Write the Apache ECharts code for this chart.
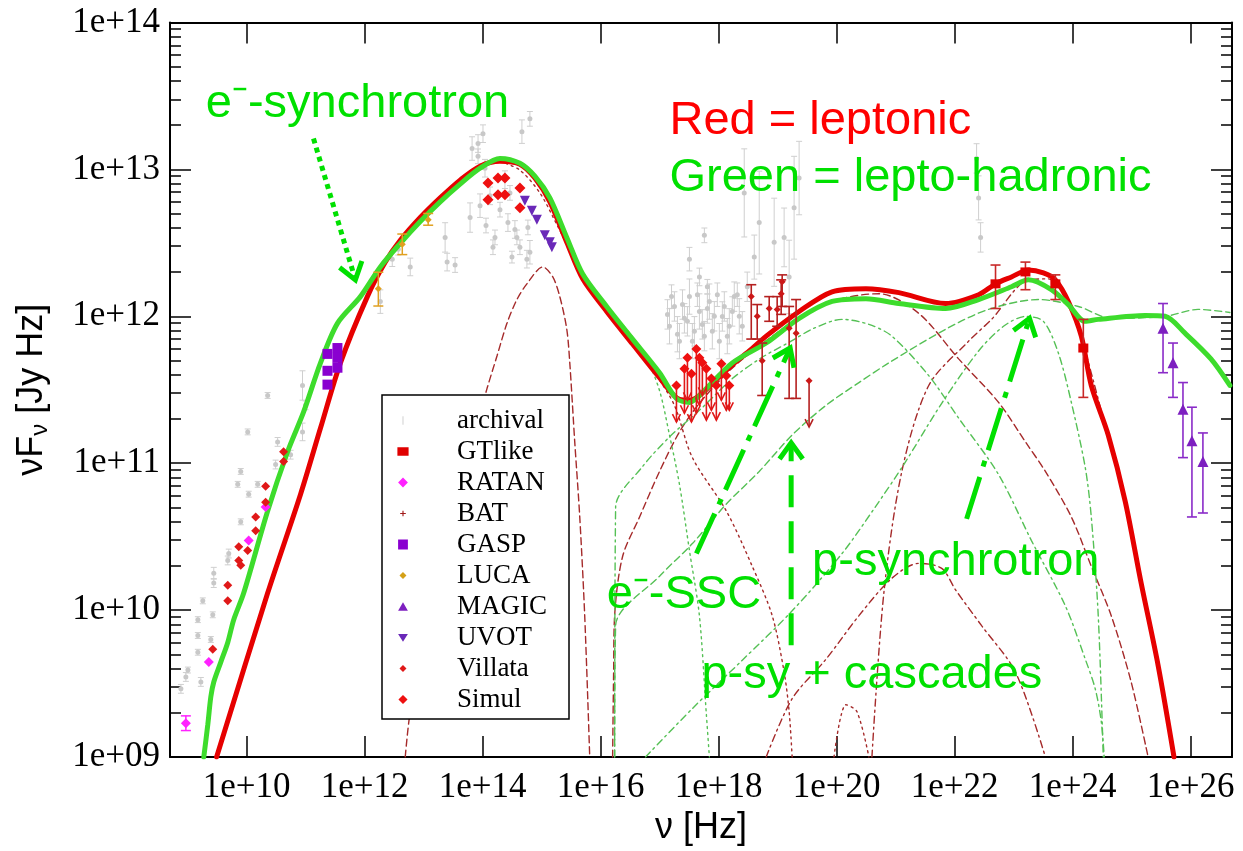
<!DOCTYPE html>
<html>
<head>
<meta charset="utf-8">
<title>SED: leptonic vs lepto-hadronic model</title>
<script src="https://cdn.jsdelivr.net/npm/echarts@6/dist/echarts.min.js"></script>
<style>
  html, body { margin: 0; padding: 0; background: #fff; }
  #chart { width: 1243px; height: 851px; }
</style>
</head>
<body>
<div id="chart"></div>
<script>
// All values are log10: x = log10(ν / Hz), y = log10(νFν / Jy Hz)

// ---- axis ticks ----
const xTickValues = [10, 12, 14, 16, 18, 20, 22, 24, 26];
const yTickValues = [9, 10, 11, 12, 13, 14];

// ---- model curves ----
const leptonicTotal = [
  [9.490, 9.000], [10.355, 10.116], [10.913, 10.789], [11.251, 11.239], [11.589, 11.683],
  [12.045, 12.134], [12.349, 12.369], [12.603, 12.517], [12.941, 12.672], [13.279, 12.806],
  [13.617, 12.927], [13.955, 13.022], [14.293, 13.055], [14.631, 13.035], [14.884, 12.941],
  [15.138, 12.779], [15.425, 12.504], [15.695, 12.255], [16.101, 12.033], [16.540, 11.811],
  [16.997, 11.582], [17.335, 11.434], [17.504, 11.428], [17.673, 11.461], [18.011, 11.589],
  [18.231, 11.670], [18.518, 11.764], [18.805, 11.865], [19.363, 12.033], [19.921, 12.167],
  [20.495, 12.188], [21.053, 12.161], [21.847, 12.087], [22.405, 12.147], [22.692, 12.221],
  [22.963, 12.268], [23.250, 12.315], [23.503, 12.295], [23.706, 12.248], [23.926, 12.100],
  [24.146, 11.865], [24.315, 11.529], [24.602, 11.192], [24.889, 10.742], [25.160, 10.184],
  [25.447, 9.625], [25.717, 9.000]
];
const leptoHadronicTotal = [
  [9.273, 9.000], [9.341, 9.222], [9.392, 9.410], [9.442, 9.511], [9.561, 9.646],
  [9.679, 9.780], [9.780, 9.935], [9.949, 10.116], [10.355, 10.675], [10.693, 11.078],
  [10.963, 11.347], [11.251, 11.683], [11.538, 11.952], [11.927, 12.134], [12.265, 12.336],
  [12.603, 12.497], [12.941, 12.645], [13.279, 12.779], [13.617, 12.900], [13.955, 13.008],
  [14.293, 13.075], [14.631, 13.042], [14.884, 12.954], [15.138, 12.806], [15.425, 12.537],
  [15.695, 12.288], [16.101, 12.067], [16.540, 11.845], [16.997, 11.616], [17.284, 11.441],
  [17.504, 11.414], [17.673, 11.461], [18.231, 11.683], [18.805, 11.818], [19.363, 11.986],
  [19.921, 12.101], [20.495, 12.120], [21.053, 12.087], [21.847, 12.053], [22.405, 12.114],
  [22.963, 12.201], [23.250, 12.248], [23.639, 12.181], [23.926, 12.080], [24.213, 11.966],
  [24.433, 11.979], [25.228, 12.006], [25.566, 12.000], [25.903, 11.885], [26.343, 11.710],
  [26.664, 11.529]
];
// leptonic components
const lepSyncBump = [
  [12.687, 9.000], [12.772, 9.309], [13.110, 10.015], [13.448, 10.621], [13.786, 11.112],
  [14.073, 11.508], [14.242, 11.730], [14.411, 11.952], [14.580, 12.114], [14.749, 12.221],
  [15.019, 12.336], [15.188, 12.268], [15.307, 12.134], [15.425, 11.912], [15.476, 11.683],
  [15.560, 11.145], [15.645, 10.634], [15.729, 9.962], [15.814, 9.000]
];
const lepSync = [
  [14.293, 13.055], [14.631, 12.995], [14.969, 12.840], [15.256, 12.625], [15.560, 12.389],
  [15.983, 12.134], [16.490, 11.865], [16.946, 11.596], [17.250, 11.394], [17.554, 11.038],
  [18.129, 10.675], [18.569, 10.298], [18.907, 9.962], [19.109, 9.578], [19.194, 9.309],
  [19.245, 9.000]
];
const lepSSC = [
  [16.202, 9.000], [16.219, 9.578], [16.236, 9.962], [16.371, 10.365], [16.659, 10.634],
  [16.997, 10.944], [17.335, 11.213], [17.673, 11.408], [18.180, 11.629], [18.687, 11.798],
  [19.363, 11.986], [20.039, 12.114], [20.715, 12.154], [21.391, 12.020], [22.067, 11.710],
  [22.743, 11.414], [23.199, 11.145], [23.537, 10.944], [23.977, 10.634], [24.315, 10.298],
  [24.653, 9.962], [24.991, 9.511], [25.278, 9.000]
];
const lepEC = [
  [20.597, 9.000], [20.799, 10.116], [21.104, 10.944], [21.560, 11.529], [22.236, 11.831],
  [22.625, 11.979], [23.250, 12.248], [23.588, 12.255], [23.841, 12.154], [24.095, 11.919],
  [24.349, 11.562], [24.602, 11.172], [24.889, 10.722], [25.160, 10.170], [25.447, 9.612],
  [25.700, 9.000]
];
const lepSecond = [
  [18.805, 9.000], [19.245, 9.397], [19.819, 9.666], [20.377, 9.962], [20.935, 10.217],
  [21.391, 10.318], [21.780, 10.284], [22.016, 10.137], [22.456, 9.894], [23.030, 9.578],
  [23.537, 9.000]
];
const lepSmallBump = [[19.954, 9.000], [20.157, 9.356], [20.343, 9.309], [20.546, 9.000]];
// lepto-hadronic components
const eSync = [
  [15.983, 12.114], [16.490, 11.885], [16.794, 11.697], [16.997, 11.495], [17.166, 11.192],
  [17.335, 10.856], [17.504, 10.406], [17.673, 9.962], [17.791, 9.289], [17.842, 9.000]
];
const eSSC = [
  [16.236, 9.000], [16.253, 10.701], [16.709, 10.977], [17.166, 11.179], [17.673, 11.360],
  [18.231, 11.576], [18.721, 11.717], [19.228, 11.831], [19.617, 11.919], [20.090, 11.979],
  [20.546, 11.945], [20.935, 11.865], [21.560, 11.596], [22.067, 11.307], [22.743, 10.923],
  [23.301, 10.473], [23.875, 10.029], [24.213, 9.666], [24.382, 9.464], [24.484, 9.242],
  [24.534, 9.000]
];
const pSyCascades = [
  [16.236, 9.000], [16.253, 9.894], [16.997, 10.231], [17.554, 10.453], [18.129, 10.722],
  [18.687, 10.944], [19.245, 11.192], [19.819, 11.394], [20.377, 11.549], [20.884, 11.683],
  [21.847, 11.912], [22.574, 12.047], [23.419, 12.114], [24.095, 12.067], [24.653, 11.986],
  [25.566, 12.000], [26.123, 12.047], [26.664, 12.026]
];
const pSync = [
  [16.760, 9.000], [17.554, 9.330], [18.400, 9.659], [19.245, 9.995], [20.090, 10.385],
  [20.630, 10.688], [21.137, 10.991], [21.780, 11.408], [22.405, 11.764], [22.827, 11.932],
  [23.199, 11.999], [23.503, 11.966], [23.757, 11.750], [23.977, 11.414], [24.213, 10.970],
  [24.315, 10.634], [24.433, 9.962], [24.518, 9.000]
];

// ---- measurements: [x, y, halfError] or [x, y, yLow, yHigh] ----
const archival = [
  [8.885, 9.464, 0.03], [8.969, 9.545, 0.03], [9.003, 9.592, 0.02], [9.223, 9.511, 0.03],
  [9.172, 9.713, 0.02], [9.172, 9.827, 0.02], [9.172, 9.935, 0.02], [9.256, 10.063, 0.02],
  [9.425, 9.968, 0.02], [9.392, 9.800, 0.02], [9.442, 10.251, 0.04], [9.442, 10.184, 0.03],
  [9.679, 10.338, 0.03], [9.696, 10.385, 0.03], [9.899, 10.601, 0.02], [9.848, 10.856, 0.02],
  [9.899, 10.944, 0.02], [10.034, 10.789, 0.02], [10.017, 11.213, 0.02], [10.186, 10.856, 0.02],
  [10.355, 11.461, 0.02], [10.524, 11.145, 0.03], [10.490, 10.991, 0.03], [10.946, 11.529, 0.10],
  [10.946, 11.213, 0.06], [10.744, 11.058, 0.03], [10.997, 11.394, 0.03],
  [12.265, 12.100, 0.08], [12.467, 12.389, 0.05], [12.569, 12.457, 0.04], [12.772, 12.336, 0.06],
  [13.363, 12.537, 0.10], [13.397, 12.369, 0.06], [13.532, 12.349, 0.05],
  [13.921, 13.176, 0.06], [13.921, 13.089, 0.05], [13.955, 12.753, 0.08], [14.056, 12.618, 0.05],
  [14.124, 12.820, 0.06], [14.293, 12.726, 0.05], [14.377, 12.930, 0.06], [14.462, 12.840, 0.05],
  [14.546, 12.591, 0.06], [14.631, 12.470, 0.05], [14.665, 13.257, 0.08], [14.800, 13.344, 0.05],
  [14.749, 12.389, 0.06], [13.786, 12.672, 0.10], [14.208, 12.537, 0.05], [14.496, 12.403, 0.04],
  [13.820, 13.142, 0.08], [14.039, 13.008, 0.06], [14.174, 12.470, 0.05], [14.428, 12.638, 0.06],
  [14.580, 12.537, 0.05], [14.800, 12.436, 0.08], [14.766, 12.605, 0.05], [14.005, 13.243, 0.06],
  [17.166, 11.932, 0.12], [17.250, 12.067, 0.10], [17.335, 11.831, 0.12], [17.419, 11.986, 0.10],
  [17.504, 12.134, 0.12], [17.588, 11.898, 0.10], [17.673, 12.033, 0.12], [17.757, 11.865, 0.10],
  [17.842, 12.100, 0.12], [17.926, 12.000, 0.10], [18.011, 11.831, 0.12], [18.095, 12.067, 0.10],
  [18.180, 11.932, 0.12], [18.264, 12.134, 0.10], [18.349, 12.000, 0.12], [17.504, 12.389, 0.08],
  [17.673, 12.268, 0.06], [17.808, 12.201, 0.05], [18.433, 12.840, 0.30], [18.687, 12.638, 0.35],
  [18.940, 12.504, 0.30], [19.194, 12.268, 0.25], [19.278, 12.739, 0.35], [17.757, 12.551, 0.05],
  [17.132, 12.013, 0.10], [17.200, 12.134, 0.08], [17.301, 11.878, 0.12], [17.386, 12.080, 0.10],
  [17.470, 11.966, 0.10], [17.554, 11.831, 0.12], [17.639, 12.147, 0.08], [17.723, 11.945, 0.10],
  [17.808, 12.053, 0.10], [17.892, 11.898, 0.12], [17.977, 12.147, 0.08], [18.062, 11.999, 0.10],
  [18.146, 11.865, 0.12], [18.231, 12.033, 0.10], [18.315, 12.147, 0.08], [18.400, 11.932, 0.10],
  [18.484, 12.201, 0.10], [18.603, 12.403, 0.15], [19.109, 12.537, 0.20], [19.363, 12.941, 0.25],
  [22.371, 13.075, 0.10], [22.405, 12.806, 0.15], [22.439, 12.537, 0.10]
];
const gtlike = [
  [22.692, 12.221, 12.053, 12.349], [23.199, 12.302, 12.181, 12.369],
  [23.706, 12.221, 12.114, 12.282], [24.180, 11.784, 11.448, 11.979]
];
const ratan = [[8.969, 9.229, 9.180, 9.280], [9.358, 9.646], [10.034, 10.473], [10.321, 10.701]];
const bat = [
  [18.552, 12.134, 11.845, 12.215], [18.653, 12.000, 11.845, 12.080], [18.737, 11.697, 11.461, 11.818],
  [18.856, 12.053, 11.966, 12.134], [18.991, 12.047, 11.932, 12.134], [19.059, 12.154, 12.013, 12.248],
  [19.076, 12.235, 12.067, 12.282], [19.194, 11.919, 11.441, 12.067], [19.312, 11.885, 11.441, 12.114]
];
const batUpperLimits = [[19.532, 11.562, 11.246]];
const gasp = [
  [11.369, 11.744], [11.538, 11.784], [11.538, 11.717], [11.369, 11.629], [11.538, 11.650], [11.369, 11.535]
];
const luca = [[12.231, 12.188, 12.070, 12.300], [12.637, 12.490, 12.420, 12.560], [13.076, 12.658, 12.620, 12.700]];
const magic = [
  [25.531, 11.919, 11.616, 12.087], [25.700, 11.683, 11.448, 11.818], [25.869, 11.367, 11.038, 11.549],
  [26.021, 11.152, 10.634, 11.381], [26.207, 11.011, 10.661, 11.206]
];
const uvot = [[14.715, 12.786], [14.834, 12.719], [14.918, 12.658], [15.053, 12.551], [15.138, 12.504], [15.172, 12.470]];
const villata = [
  [9.425, 9.733], [9.679, 10.063], [9.679, 10.170], [9.865, 10.432], [9.865, 10.338], [9.899, 10.305],
  [10.017, 10.406], [10.152, 10.540], [10.152, 10.634], [10.321, 10.843], [10.321, 10.735],
  [10.625, 11.078], [10.625, 11.011]
];
const simulOptical = [
  [14.090, 12.907], [14.259, 12.941], [14.377, 12.941], [14.090, 12.793], [14.259, 12.827],
  [14.377, 12.827], [14.631, 12.874], [14.631, 12.739]
];
const simulXrayLimits = [
  [17.284, 11.529, 11.280], [17.419, 11.643, 11.340], [17.470, 11.717, 11.428], [17.538, 11.609, 11.280],
  [17.622, 11.777, 11.340], [17.673, 11.717, 11.394], [17.723, 11.683, 11.461], [17.791, 11.643, 11.293],
  [17.876, 11.576, 11.360], [17.960, 11.529, 11.293], [18.045, 11.677, 11.428], [18.129, 11.596, 11.360],
  [18.180, 11.529, 11.360]
];

// ---- annotations (anchored in data coordinates) ----
const annotationTexts = [
  { text: 'e\u207B-synchrotron', at: [9.307, 13.442], color: '#00e000' },
  { text: 'Red = leptonic', at: [17.166, 13.327], color: '#ff0000' },
  { text: 'Green = lepto-hadronic', at: [17.166, 12.944], color: '#00e000' },
  { text: 'e\u207B-SSC', at: [16.101, 10.100], color: '#00e000' },
  { text: 'p-synchrotron', at: [19.583, 10.328], color: '#00e000' },
  { text: 'p-sy + cascades', at: [17.707, 9.555], color: '#00e000' }
];
const annotationArrows = [
  { from: [11.132, 13.210], to: [11.842, 12.248], dash: [5, 4.5] },
  { from: [17.622, 10.385], to: [19.211, 11.784], dash: [44, 10, 6, 10] },
  { from: [19.228, 9.760], to: [19.228, 11.139], dash: [32, 14] },
  { from: [22.202, 10.621], to: [23.267, 11.986], dash: [44, 11, 6, 11] }
];

// ---- styling ----
const RED = '#e60000';
const GREEN = '#3ddc2c';
const DARK_RED = '#a52a2a';
const THIN_GREEN = '#55c055';
const SERIF = '"Liberation Serif", "Times New Roman", serif';
const SANS = '"Liberation Sans", Arial, sans-serif';

const yMinorValues = [];
for (let d = 9; d < 14; d++) for (let k = 2; k <= 9; k++) yMinorValues.push(d + Math.log10(k));

const fmtExp = v => {
  const e = Math.round(v);
  return '1e+' + (e < 10 ? '0' : '') + e;
};

function modelLine(name, data, color, width, type, z) {
  return {
    type: 'line', name, data, symbol: 'none', showSymbol: false, smooth: 0.3,
    lineStyle: { color, width, type: type || 'solid', cap: 'round' },
    z, silent: true
  };
}

function errorBars(name, data, color, cap, width, z) {
  return {
    type: 'custom', name, z, silent: true,
    data: data.filter(d => d.length >= 4),
    encode: { x: 0, y: [2, 3] },
    renderItem(params, api) {
      const x = api.value(0);
      const lo = api.coord([x, api.value(2)]);
      const hi = api.coord([x, api.value(3)]);
      const st = { stroke: color, lineWidth: width };
      return {
        type: 'group',
        children: [
          { type: 'line', shape: { x1: lo[0], y1: lo[1], x2: hi[0], y2: hi[1] }, style: st },
          { type: 'line', shape: { x1: lo[0] - cap, y1: lo[1], x2: lo[0] + cap, y2: lo[1] }, style: st },
          { type: 'line', shape: { x1: hi[0] - cap, y1: hi[1], x2: hi[0] + cap, y2: hi[1] }, style: st }
        ]
      };
    }
  };
}

function plainBars(name, data, color, z) {
  return {
    type: 'custom', name, z, silent: true,
    data: data.map(d => [d[0], d[1] - d[2], d[1] + d[2]]),
    encode: { x: 0, y: [1, 2] },
    renderItem(params, api) {
      const x = api.value(0);
      const lo = api.coord([x, api.value(1)]);
      const hi = api.coord([x, api.value(2)]);
      const st = { stroke: color, lineWidth: 1 };
      return {
        type: 'group',
        children: [
          { type: 'line', shape: { x1: lo[0], y1: lo[1], x2: hi[0], y2: hi[1] }, style: st },
          { type: 'line', shape: { x1: lo[0] - 3, y1: lo[1], x2: lo[0] + 3, y2: lo[1] }, style: st },
          { type: 'line', shape: { x1: hi[0] - 3, y1: hi[1], x2: hi[0] + 3, y2: hi[1] }, style: st }
        ]
      };
    }
  };
}

function upperLimits(name, data, color, z) {
  return {
    type: 'custom', name, z, silent: true,
    data, encode: { x: 0, y: [1, 2] },
    renderItem(params, api) {
      const x = api.value(0);
      const top = api.coord([x, api.value(1)]);
      const bot = api.coord([x, api.value(2)]);
      const st = { stroke: color, lineWidth: 1.6, fill: null };
      return {
        type: 'group',
        children: [
          { type: 'line', shape: { x1: top[0], y1: top[1], x2: bot[0], y2: bot[1] }, style: st },
          { type: 'polyline', shape: { points: [[bot[0] - 4, bot[1] - 8], bot, [bot[0] + 4, bot[1] - 8]] }, style: st }
        ]
      };
    }
  };
}

function scatter(name, data, symbol, size, color, z) {
  return {
    type: 'scatter', name, z, silent: true,
    data: data.map(d => [d[0], d[1]]),
    symbol, symbolSize: size, itemStyle: { color, opacity: 1 }
  };
}

// legend icons drawn in a 20x20 box (tiny corner specks fix the box size)
const iconBox = 'path://M0,0h.01v.01h-.01zM20,20h.01v.01h-.01z';
const legendItems = [
  { name: 'archival', icon: iconBox + 'M9.4,4h1.2v12h-1.2z', itemStyle: { color: '#c8c8c8' } },
  { name: 'GTlike', icon: iconBox + 'M2,4h16v12h-16z', itemStyle: { color: '#e00000' } },
  { name: 'RATAN', icon: iconBox + 'M10,3L17,10L10,17L3,10z', itemStyle: { color: '#ff22ff' } },
  { name: 'BAT', icon: iconBox + 'M9.2,6h1.6v3.2h3.2v1.6h-3.2v3.2h-1.6v-3.2h-3.2v-1.6h3.2z', itemStyle: { color: '#a01818' } },
  { name: 'GASP', icon: iconBox + 'M3,3h14v14h-14z', itemStyle: { color: '#8a00d0' } },
  { name: 'LUCA', icon: iconBox + 'M10,5L15,10L10,15L5,10z', itemStyle: { color: '#d4a017' } },
  { name: 'MAGIC', icon: iconBox + 'M10,4L17,16H3z', itemStyle: { color: '#7d1fc0' } },
  { name: 'UVOT', icon: iconBox + 'M3,5H17L10,16z', itemStyle: { color: '#6a28b8' } },
  { name: 'Villata', icon: iconBox + 'M10,5L15,10L10,15L5,10z', itemStyle: { color: '#e01818' } },
  { name: 'Simul', icon: iconBox + 'M10,3.5L16.5,10L10,16.5L3.5,10z', itemStyle: { color: '#ee1010' } }
];

const chart = echarts.init(document.getElementById('chart'), null, { renderer: 'canvas' });

const axisLineStyle = { color: '#000', width: 2 };
const tickStyle = { color: '#000', width: 1.5 };

chart.setOption({
  animation: false,
  backgroundColor: '#fff',
  grid: { left: 170, right: 11, top: 22.5, bottom: 85, containLabel: false },
  xAxis: [
    {
      type: 'value', position: 'bottom', min: 8.7, max: 26.7,
      axisLine: { show: true, onZero: false, lineStyle: axisLineStyle },
      axisTick: { show: true, inside: true, length: 21, customValues: xTickValues, lineStyle: tickStyle },
      axisLabel: {
        show: true, customValues: xTickValues, formatter: fmtExp, margin: 13,
        fontFamily: SERIF, fontSize: 35, color: '#000'
      },
      splitLine: { show: false },
      name: 'ν [Hz]', nameLocation: 'middle', nameGap: 53,
      nameTextStyle: { fontFamily: SANS, fontSize: 36, color: '#000' }
    },
    {
      type: 'value', position: 'top', min: 8.7, max: 26.7,
      axisLine: { show: true, onZero: false, lineStyle: axisLineStyle },
      axisTick: { show: true, inside: true, length: 21, customValues: xTickValues, lineStyle: tickStyle },
      axisLabel: { show: false },
      splitLine: { show: false }
    }
  ],
  yAxis: [
    {
      type: 'value', position: 'left', min: 9, max: 14,
      axisLine: { show: true, onZero: false, lineStyle: axisLineStyle },
      axisTick: { show: true, inside: true, length: 21, customValues: yTickValues, lineStyle: tickStyle },
      axisLabel: {
        show: true, customValues: yTickValues, formatter: fmtExp, margin: 10,
        fontFamily: SERIF, fontSize: 35, color: '#000'
      },
      splitLine: { show: false },
      name: '{a|νF}{b|ν}{a| [Jy Hz]}', nameLocation: 'middle', nameGap: 118, nameRotate: 90,
      nameTextStyle: {
        color: '#000',
        rich: {
          a: { fontFamily: SANS, fontSize: 36, color: '#000' },
          b: { fontFamily: SANS, fontSize: 24, color: '#000', padding: [16, 0, 0, 0] }
        }
      }
    },
    {
      type: 'value', position: 'left', min: 9, max: 14,
      axisLine: { show: false },
      axisTick: { show: true, inside: true, length: 11, customValues: yMinorValues, lineStyle: tickStyle },
      axisLabel: { show: false }, splitLine: { show: false }
    },
    {
      type: 'value', position: 'right', min: 9, max: 14,
      axisLine: { show: true, onZero: false, lineStyle: axisLineStyle },
      axisTick: { show: true, inside: true, length: 21, customValues: yTickValues, lineStyle: tickStyle },
      axisLabel: { show: false }, splitLine: { show: false }
    },
    {
      type: 'value', position: 'right', min: 9, max: 14,
      axisLine: { show: false },
      axisTick: { show: true, inside: true, length: 11, customValues: yMinorValues, lineStyle: tickStyle },
      axisLabel: { show: false }, splitLine: { show: false }
    }
  ],
  legend: {
    orient: 'vertical', left: 382, top: 395,
    padding: [12, 22, 6, 14], itemGap: 4, itemWidth: 60, itemHeight: 14,
    backgroundColor: '#fff', borderColor: '#000', borderWidth: 1.5, borderRadius: 0,
    textStyle: { fontFamily: SERIF, fontSize: 27, lineHeight: 27, color: '#000', rich: { g: { width: 19 } } },
    formatter: n => '{g|}' + n,
    data: legendItems,
    z: 10
  },
  series: [
    // archival data underneath everything
    plainBars('archival', archival, '#cfcfcf', 1),
    scatter('archival', archival, 'circle', 5, '#c8c8c8', 1),

    // leptonic components
    modelLine('lep sync bump', lepSyncBump, DARK_RED, 1.4, [7, 4], 2),
    modelLine('lep sync', lepSync, DARK_RED, 1.4, [2, 4], 2),
    modelLine('lep SSC', lepSSC, DARK_RED, 1.4, [7, 4], 2),
    modelLine('lep EC', lepEC, DARK_RED, 1.4, [7, 4, 2, 4], 2),
    modelLine('lep second', lepSecond, DARK_RED, 1.4, [7, 4, 2, 4], 2),
    modelLine('lep small bump', lepSmallBump, DARK_RED, 1.4, [2, 4], 2),
    // lepto-hadronic components
    modelLine('e sync', eSync, THIN_GREEN, 1.4, [2, 4], 2),
    modelLine('e SSC', eSSC, THIN_GREEN, 1.4, [7, 4, 2, 4], 2),
    modelLine('p-sy + cascades', pSyCascades, THIN_GREEN, 1.4, [7, 4], 2),
    modelLine('p sync', pSync, THIN_GREEN, 1.4, [7, 4, 2, 4], 2),

    // totals
    modelLine('leptonic', leptonicTotal, RED, 5, 'solid', 3),
    modelLine('lepto-hadronic', leptoHadronicTotal, GREEN, 5, 'solid', 4),

    // measurements
    errorBars('LUCA', luca, '#e0a020', 5, 1.5, 5),
    scatter('LUCA', luca, 'diamond', 7, '#e0a020', 5),
    errorBars('RATAN', ratan, '#ff22ff', 5, 1.5, 5),
    scatter('RATAN', ratan, 'diamond', 10, '#ff22ff', 5),
    scatter('GASP', gasp, 'rect', 10, '#8a00d0', 5),
    scatter('Villata', villata, 'diamond', 9, '#e01818', 5),
    scatter('Simul', simulOptical, 'diamond', 11, '#ee1010', 5),
    scatter('UVOT', uvot, 'path://M0,0H10L5,9z', 10, '#6a28b8', 5),
    upperLimits('Simul', simulXrayLimits, '#e01818', 5),
    scatter('Simul', simulXrayLimits, 'diamond', 10, '#ee1010', 6),
    errorBars('BAT', bat, '#b52020', 5, 1.6, 5),
    scatter('BAT', bat, 'diamond', 7, '#cc1818', 6),
    upperLimits('BAT', batUpperLimits, '#b52020', 5),
    scatter('BAT', batUpperLimits, 'diamond', 7, '#cc1818', 6),
    errorBars('GTlike', gtlike, '#c82828', 5, 1.6, 5),
    scatter('GTlike', gtlike, 'rect', [10, 9], '#e00000', 6),
    errorBars('MAGIC', magic, '#8a2bc8', 5, 1.6, 5),
    scatter('MAGIC', magic, 'triangle', 11, '#7d1fc0', 6)
  ]
});

// ---- annotations: coloured labels and arrows ----
function toPx(p) {
  return chart.convertToPixel({ xAxisIndex: 0, yAxisIndex: 0 }, p);
}
const graphics = [];
annotationTexts.forEach(t => {
  const p = toPx(t.at);
  graphics.push({
    type: 'text', x: p[0], y: p[1], z: 20, silent: true,
    style: { text: t.text, fill: t.color, fontFamily: SANS, fontSize: 47, align: 'left', verticalAlign: 'middle' }
  });
});
annotationArrows.forEach(a => {
  const p0 = toPx(a.from);
  const p1 = toPx(a.to);
  const ang = Math.atan2(p1[1] - p0[1], p1[0] - p0[0]);
  const L = 20, th = 0.62;
  const h1 = [p1[0] - L * Math.cos(ang - th), p1[1] - L * Math.sin(ang - th)];
  const h2 = [p1[0] - L * Math.cos(ang + th), p1[1] - L * Math.sin(ang + th)];
  graphics.push({
    type: 'line', z: 20, silent: true,
    shape: { x1: p0[0], y1: p0[1], x2: p1[0] - 3 * Math.cos(ang), y2: p1[1] - 3 * Math.sin(ang) },
    style: { stroke: '#00e000', lineWidth: 5, lineDash: a.dash, lineCap: 'butt' }
  });
  graphics.push({
    type: 'polyline', z: 20, silent: true,
    shape: { points: [h1, p1, h2] },
    style: { stroke: '#00e000', lineWidth: 5, fill: null, lineJoin: 'miter' }
  });
});
chart.setOption({ graphic: graphics });
</script>
</body>
</html>
